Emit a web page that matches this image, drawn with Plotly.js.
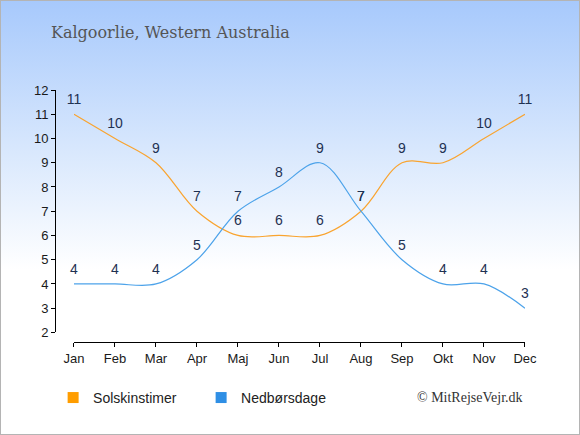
<!DOCTYPE html>
<html>
<head>
<meta charset="utf-8">
<script src="https://cdn.plot.ly/plotly-3.0.1.min.js"></script>
<style>
html,body{margin:0;padding:0;}
#wrap{width:580px;height:435px;box-sizing:border-box;border:1px solid #b4b4b4;
background:linear-gradient(to bottom,#a7c9fc 0%,#d9e8fd 35%,#ffffff 62%,#ffffff 100%);}
#chart{width:578px;height:433px;}
</style>
</head>
<body>
<div id="wrap"><div id="chart"></div></div>
<script>
const months = ["Jan","Feb","Mar","Apr","Maj","Jun","Jul","Aug","Sep","Okt","Nov","Dec"];
const sunHours = [11,10,9,7,6,6,6,7,9,9,10,11];
const rainDays = [4,4,4,5,7,8,9,7,5,4,4,3];
const seriesNames = ["Solskinstimer","Nedbørsdage"];
const titleText = "Kalgoorlie, Western Australia";
const creditText = "© MitRejseVejr.dk";

const sunColor = "#f9a430";
const rainColor = "#4da3ea";
const lblFont = {family:"Liberation Sans, Arial, sans-serif", size:14, color:"#1e3152"};

const traces = [
  {x:months, y:sunHours, mode:"lines+markers+text", text:sunHours.map(String), textposition:"top center",
   marker:{size:9,color:"rgba(0,0,0,0)"},
   textfont:lblFont, cliponaxis:false, line:{color:sunColor,width:1.2,shape:"spline",smoothing:1},
   showlegend:false, hoverinfo:"skip"},
  {x:months, y:rainDays, mode:"lines+markers+text", text:rainDays.map(String), textposition:"top center",
   marker:{size:9,color:"rgba(0,0,0,0)"},
   textfont:lblFont, cliponaxis:false, line:{color:rainColor,width:1.2,shape:"spline",smoothing:1},
   showlegend:false, hoverinfo:"skip"},
  {x:[null], y:[null], mode:"markers", name:seriesNames[0], marker:{symbol:"square",size:11,color:"#ff9d00"}},
  {x:[null], y:[null], mode:"markers", name:seriesNames[1], marker:{symbol:"square",size:11,color:"#2f8fe5"}}
];

const tickFont = {family:"Liberation Sans, Arial, sans-serif", size:13, color:"#1a1a1a"};
const layout = {
  width:578, height:433,
  paper_bgcolor:"rgba(0,0,0,0)", plot_bgcolor:"rgba(0,0,0,0)",
  margin:{l:54,r:54,t:89,b:92,pad:0},
  title:{text:titleText, x:50/578, xanchor:"left", xref:"container", y:1-31/433, yanchor:"middle",
         font:{family:"DejaVu Serif, serif", size:16, color:"#555555"}},
  xaxis:{type:"category", range:[0,11], domain:[0.0404,1], anchor:"free", position:0,
         showline:true, linecolor:"#000", linewidth:1, ticks:"outside", ticklen:4, tickcolor:"#000",
         showgrid:false, zeroline:false, tickfont:tickFont, fixedrange:true},
  yaxis:{range:[2,12], dtick:1, domain:[0.038,1], anchor:"free", position:0,
         showline:true, linecolor:"#000", linewidth:1, ticks:"outside", ticklen:4, tickcolor:"#000",
         showgrid:false, zeroline:false, tickfont:tickFont, fixedrange:true},
  showlegend:true,
  legend:{orientation:"h", x:-0.004, xanchor:"left", y:-0.222, yanchor:"middle",
          font:{family:"Liberation Sans, Arial, sans-serif", size:14, color:"#222"},
          entrywidth:103, entrywidthmode:"pixels", bgcolor:"rgba(0,0,0,0)"},
  annotations:[{text:creditText, xref:"paper", yref:"paper", x:1, xanchor:"right", y:-0.222, yanchor:"middle",
                showarrow:false, font:{family:"Liberation Serif, Times New Roman, serif", size:14, color:"#333"}}]
};
Plotly.newPlot("chart", traces, layout, {displayModeBar:false, staticPlot:true});
</script>
</body>
</html>
